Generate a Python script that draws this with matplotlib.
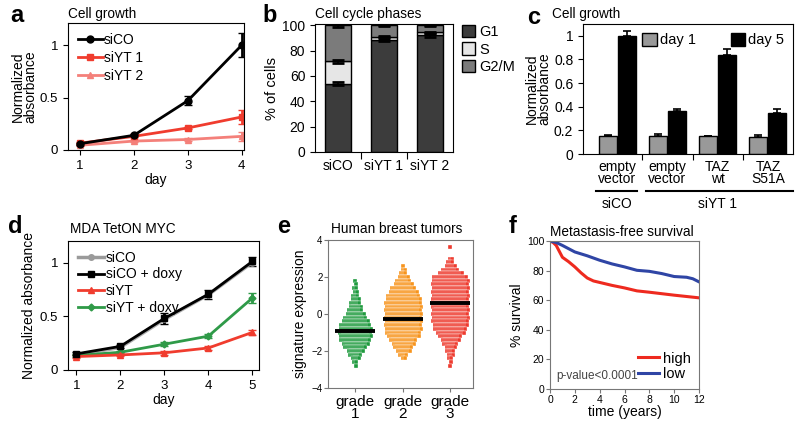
import numpy as np
import matplotlib
matplotlib.use('Agg')
from matplotlib import pyplot as plt
from matplotlib.lines import Line2D

plt.rcParams['font.family'] = ['Liberation Sans', 'DejaVu Sans']
plt.rcParams['font.size'] = 9.5

# ---- data ----
# a: cell growth
days_a = [1, 2, 3, 4]
a_sico = [0.06, 0.14, 0.47, 1.0]
a_sico_err = [0.01, 0.01, 0.045, 0.115]
a_siyt1 = [0.065, 0.13, 0.21, 0.315]
a_siyt1_err = [0.01, 0.01, 0.012, 0.07]
a_siyt2 = [0.045, 0.085, 0.10, 0.13]
a_siyt2_err = [0.01, 0.01, 0.01, 0.04]

# b: cell cycle phases
b_groups = ['siCO', 'siYT 1', 'siYT 2']
b_g1 = [54, 88.5, 92]
b_s = [17.5, 2.5, 2.5]
b_g2m = [28.5, 9, 5.5]
b_err = [[1.5, 0.6, 1.2], [1.0, 0.5, 0.5], [1.2, 0.6, 0.6]]

# c: cell growth rescue
c_labels = ['empty\nvector', 'empty\nvector', 'TAZ\nwt', 'TAZ\nS51A']
c_day1 = [0.15, 0.155, 0.15, 0.145]
c_day1_err = [0.012, 0.018, 0.006, 0.018]
c_day5 = [1.0, 0.36, 0.84, 0.35]
c_day5_err = [0.045, 0.022, 0.045, 0.028]

# d: MDA TetON MYC
days_d = [1, 2, 3, 4, 5]
d_sico = [0.14, 0.21, 0.47, 0.70, 1.0]
d_sico_doxy = [0.15, 0.22, 0.48, 0.705, 1.01]
d_sico_doxy_err = [0.015, 0.015, 0.05, 0.04, 0.045]
d_siyt = [0.125, 0.14, 0.16, 0.205, 0.35]
d_siyt_err = [0.01, 0.01, 0.02, 0.015, 0.02]
d_siyt_doxy = [0.135, 0.165, 0.24, 0.315, 0.67]
d_siyt_doxy_err = [0.015, 0.01, 0.02, 0.02, 0.05]

# e: swarm row counts (dots per row), rows every 0.2
e_rows = {
    1: ([1.8, 1.6, 1.4, 1.2, 1.0, 0.8, 0.6, 0.4, 0.2, 0.0, -0.2, -0.4, -0.6, -0.8,
         -1.0, -1.2, -1.4, -1.6, -1.8, -2.0, -2.2, -2.4, -2.6, -2.8],
        [1, 1, 2, 2, 3, 4, 5, 6, 7, 9, 11, 13, 15, 16, 16, 16, 15, 13, 11, 8, 6, 4, 2, 1]),
    2: ([2.6, 2.4, 2.2, 2.0, 1.8, 1.6, 1.4, 1.2, 1.0, 0.8, 0.6, 0.4, 0.2, 0.0, -0.2,
         -0.4, -0.6, -0.8, -1.0, -1.2, -1.4, -1.6, -1.8, -2.0, -2.2, -2.4],
        [1, 2, 3, 5, 7, 9, 12, 14, 16, 17, 18, 18, 18, 18, 18, 18, 18, 18, 17, 16, 13,
         11, 9, 7, 4, 2]),
    3: ([3.6, 3.0, 2.8, 2.6, 2.4, 2.2, 2.0, 1.8, 1.6, 1.4, 1.2, 1.0, 0.8, 0.6, 0.4,
         0.2, 0.0, -0.2, -0.4, -0.6, -0.8, -1.0, -1.2, -1.4, -1.6, -1.8, -2.0, -2.2,
         -2.4, -2.6, -2.8],
        [1, 2, 3, 5, 8, 12, 17, 18, 18, 18, 18, 18, 18, 18, 18, 18, 18, 18, 18, 17, 16,
         14, 11, 9, 7, 5, 4, 3, 2, 1, 1]),
}
e_means = [-0.9, -0.25, 0.6]
e_colors = ['#1f9a3e', '#f7941d', '#ee3b2f']

# f: metastasis-free survival
f_t_high = [0, 0.25, 0.5, 0.75, 1, 1.5, 2, 2.5, 3, 3.5, 4, 5, 6, 7, 8, 9, 10, 11, 12]
f_high = [100, 99, 97, 93, 89, 86, 82.5, 78.5, 75, 73, 72, 70, 68.3, 66.3, 65.4, 64.4, 63.4, 62.5, 61.6]
f_t_low = [0, 0.5, 1, 2, 3, 4, 5, 6, 7, 8, 9, 10, 11, 11.5, 12]
f_low = [100, 99, 97, 92.6, 90, 87, 84.5, 82.5, 80.2, 79.5, 78, 76, 75.5, 74.5, 72.4]

W, H = 800, 424
fig = plt.figure(figsize=(8, 4.24), dpi=100)


def ax_px(x0, y0, x1, y1):
    return fig.add_axes([x0 / W, 1 - y1 / H, (x1 - x0) / W, (y1 - y0) / H])


def label(x, y, s):
    fig.text(x / W, 1 - y / H, s, fontsize=17, fontweight='bold', va='center', ha='left')


def title(x, y, s):
    fig.text(x / W, 1 - y / H, s, fontsize=9.8, va='center', ha='left')


def line_handle(color, marker, ms, lw=2, alpha=1):
    return Line2D([], [], color=color, marker=marker, ms=ms, lw=lw, alpha=alpha)


# ---- a ----
ax = ax_px(68, 23, 244, 150)
ax.errorbar(days_a, a_siyt2, yerr=a_siyt2_err, color='#f4807a', marker='^', ms=5, lw=2, capsize=3)
ax.errorbar(days_a, a_siyt1, yerr=a_siyt1_err, color='#f03c2e', marker='s', ms=5, lw=2, capsize=3)
ax.errorbar(days_a, a_sico, yerr=a_sico_err, color='black', marker='o', ms=5, lw=2, capsize=3)
hs = [line_handle('black', 'o', 5), line_handle('#f03c2e', 's', 5), line_handle('#f4807a', '^', 5)]
ax.legend(hs, ['siCO', 'siYT 1', 'siYT 2'], loc='upper left', frameon=False, fontsize=10,
          handlelength=1.8, handletextpad=0.1, labelspacing=0.3, borderaxespad=0.3)
ax.set_xlim(0.78, 4.04)
ax.set_ylim(0, 1.21)
ax.set_xticks(days_a)
ax.set_yticks([0, 0.5, 1])
ax.set_yticklabels(['0', '0.5', '1'])
ax.set_xlabel('day', fontsize=10, labelpad=1)
ax.set_ylabel('Normalized\nabsorbance', fontsize=10, linespacing=0.85, labelpad=2)
label(10, 16, 'a')
title(68, 14, 'Cell growth')

# ---- b ----
ax = ax_px(315, 24, 453, 152)
x = np.arange(len(b_groups))
bw = 0.55
g1 = np.array(b_g1)
s = np.array(b_s)
g2 = np.array(b_g2m)
ax.bar(x, g1, bw, color='#3c3c3c', edgecolor='black', lw=1, label='G1')
ax.bar(x, s, bw, bottom=g1, color='#e6e6e6', edgecolor='black', lw=1, label='S')
ax.bar(x, g2, bw, bottom=g1 + s, color='#7b7b7b', edgecolor='black', lw=1, label='G2/M')
tops = [g1, g1 + s, g1 + s + g2]
for k in range(3):
    ax.errorbar(x, tops[k], yerr=b_err[k], fmt='none', ecolor='black', capsize=4, lw=1.2, capthick=2)
ax.set_xlim(-0.5, 2.5)
ax.set_ylim(0, 101)
ax.set_yticks([0, 20, 40, 60, 80, 100])
ax.set_xticks([0.5, 1.5])
ax.set_xticklabels([])
ax.set_xticks(x, minor=True)
ax.set_xticklabels(b_groups, minor=True, fontsize=10)
ax.tick_params(axis='x', which='minor', length=0, pad=5)
ax.tick_params(axis='x', which='major', length=5)
ax.tick_params(axis='y', labelsize=10)
ax.set_ylabel('% of cells', fontsize=10.5, labelpad=2)
ax.legend(loc='upper left', bbox_to_anchor=(1.02, 1.04), frameon=False, fontsize=10.5,
          handlelength=0.9, handleheight=0.9, handletextpad=0.3, labelspacing=0.25, borderaxespad=0)
label(262, 16, 'b')
title(315, 14, 'Cell cycle phases')

# ---- c ----
ax = ax_px(583, 24, 793, 154)
xc = np.arange(len(c_labels))
bw = 0.36
ax.bar(xc - 0.19, c_day1, bw, color='#999999', edgecolor='black', lw=1,
       yerr=([0] * 4, c_day1_err), capsize=3, error_kw=dict(lw=1.2, capthick=1.2), label='day 1')
ax.bar(xc + 0.19, c_day5, bw, color='black', edgecolor='black', lw=1,
       yerr=([0] * 4, c_day5_err), capsize=3, error_kw=dict(lw=1.2, capthick=1.2, ecolor='black'), label='day 5')
ax.set_xlim(-0.68, 3.5)
ax.set_ylim(0, 1.1)
ax.set_yticks([0, 0.2, 0.4, 0.6, 0.8, 1])
ax.set_yticklabels(['0', '0.2', '0.4', '0.6', '0.8', '1'])
ax.set_xticks([0.5, 1.5, 2.5])
ax.set_xticklabels([])
ax.set_xticks(xc, minor=True)
ax.set_xticklabels(c_labels, minor=True, fontsize=10, linespacing=0.85)
ax.tick_params(axis='x', which='minor', length=0, pad=4)
ax.tick_params(axis='x', which='major', length=4)
ax.tick_params(axis='y', labelsize=10)
ax.set_ylabel('Normalized\nabsorbance', fontsize=10, linespacing=0.85, labelpad=2)
ax.legend(loc='upper right', ncol=2, frameon=False, fontsize=10.5, handlelength=1.0,
          handleheight=1.0, handletextpad=0.2, columnspacing=2.4, borderaxespad=0.2)
# group brackets below
ax.plot([-0.43, 0.4], [-0.31, -0.31], color='black', lw=1.5, clip_on=False)
ax.plot([0.57, 3.5], [-0.31, -0.31], color='black', lw=1.5, clip_on=False)
ax.text(0, -0.36, 'siCO', ha='center', va='top', fontsize=10)
ax.text(2.0, -0.36, 'siYT 1', ha='center', va='top', fontsize=10)
label(527, 18, 'c')
title(552, 14, 'Cell growth')

# ---- d ----
ax = ax_px(68, 241, 259, 370)
ax.errorbar(days_d, d_siyt_doxy, yerr=d_siyt_doxy_err, color='#2f9a48', marker='D', ms=3.5, lw=2, capsize=3)
ax.errorbar(days_d, d_siyt, yerr=d_siyt_err, color='#f03c2e', marker='^', ms=4.5, lw=2, capsize=3)
ax.errorbar(days_d, d_sico_doxy, yerr=d_sico_doxy_err, color='black', marker='s', ms=5, lw=2, capsize=3)
ax.plot(days_d, d_sico, color='#9a9a9a', marker='o', ms=4, lw=2.5, alpha=0.8)
hs = [line_handle('#9a9a9a', 'o', 4, 2.5), line_handle('black', 's', 5),
      line_handle('#f03c2e', '^', 4.5), line_handle('#2f9a48', 'D', 3.5)]
ax.legend(hs, ['siCO', 'siCO + doxy', 'siYT', 'siYT + doxy'], loc='upper left', frameon=False,
          fontsize=10, handlelength=1.9, handletextpad=0.1, labelspacing=0.2, borderaxespad=0.3)
ax.set_xlim(0.81, 5.15)
ax.set_ylim(0, 1.2)
ax.set_xticks(days_d)
ax.set_yticks([0, 0.5, 1])
ax.set_yticklabels(['0', '0.5', '1'])
ax.set_xlabel('day', fontsize=10, labelpad=1)
ax.set_ylabel('Normalized absorbance', fontsize=10, labelpad=3)
label(8, 226, 'd')
title(70, 229, 'MDA TetON MYC')

# ---- e ----
ax = ax_px(328, 240, 473, 388)
dx = 0.042
for g, col in zip([1, 2, 3], e_colors):
    ys, ns = e_rows[g]
    for i, (yv, n) in enumerate(zip(ys, ns)):
        xs = g + (np.arange(n) - (n - 1) / 2) * dx + (i % 2) * dx * 0.5
        ax.plot(xs, [yv] * n, 's', color=col, ms=2.7, mec='white', mew=0.25)
for g, m in zip([1, 2, 3], e_means):
    ax.plot([g - 0.42, g + 0.42], [m, m], color='black', lw=2.8, solid_capstyle='butt')
ax.set_xlim(0.43, 3.48)
ax.set_ylim(-4, 4)
ax.set_yticks([-4, -2, 0, 2, 4])
ax.set_xticks([1, 2, 3])
ax.set_xticklabels(['grade\n1', 'grade\n2', 'grade\n3'], fontsize=11, linespacing=0.85)
ax.tick_params(axis='y', labelsize=7, length=3, color='#777777', pad=1)
ax.tick_params(axis='x', length=3, color='#777777', pad=2)
for sp in ax.spines.values():
    sp.set_color('#777777')
ax.set_ylabel('signature expression', fontsize=10, labelpad=3)
label(277, 227, 'e')
title(331, 229, 'Human breast tumors')

# ---- f ----
ax = ax_px(550, 241, 699, 389)
ax.plot(f_t_high, f_high, color='#ee2a1f', lw=2.2, label='high')
ax.plot(f_t_low, f_low, color='#2f45a5', lw=2.2, label='low')
ax.set_xlim(0, 12)
ax.set_ylim(0, 100)
ax.set_xticks([0, 2, 4, 6, 8, 10, 12])
ax.set_yticks([0, 20, 40, 60, 80, 100])
ax.tick_params(labelsize=7.5, length=3, color='#777777', pad=1)
for sp in ax.spines.values():
    sp.set_color('#777777')
ax.set_xlabel('time (years)', fontsize=10, labelpad=0)
ax.set_ylabel('% survival', fontsize=10, labelpad=2)
ax.legend(loc='lower right', frameon=False, fontsize=10.5, handlelength=1.4,
          handletextpad=0.3, labelspacing=0.1, borderaxespad=0.15)
ax.text(0.045, 0.05, 'p-value<0.0001', transform=ax.transAxes, fontsize=8.5, color='#444444', va='bottom')
label(509, 227, 'f')
title(550, 232, 'Metastasis-free survival')

fig.savefig('out.png', dpi=100)
